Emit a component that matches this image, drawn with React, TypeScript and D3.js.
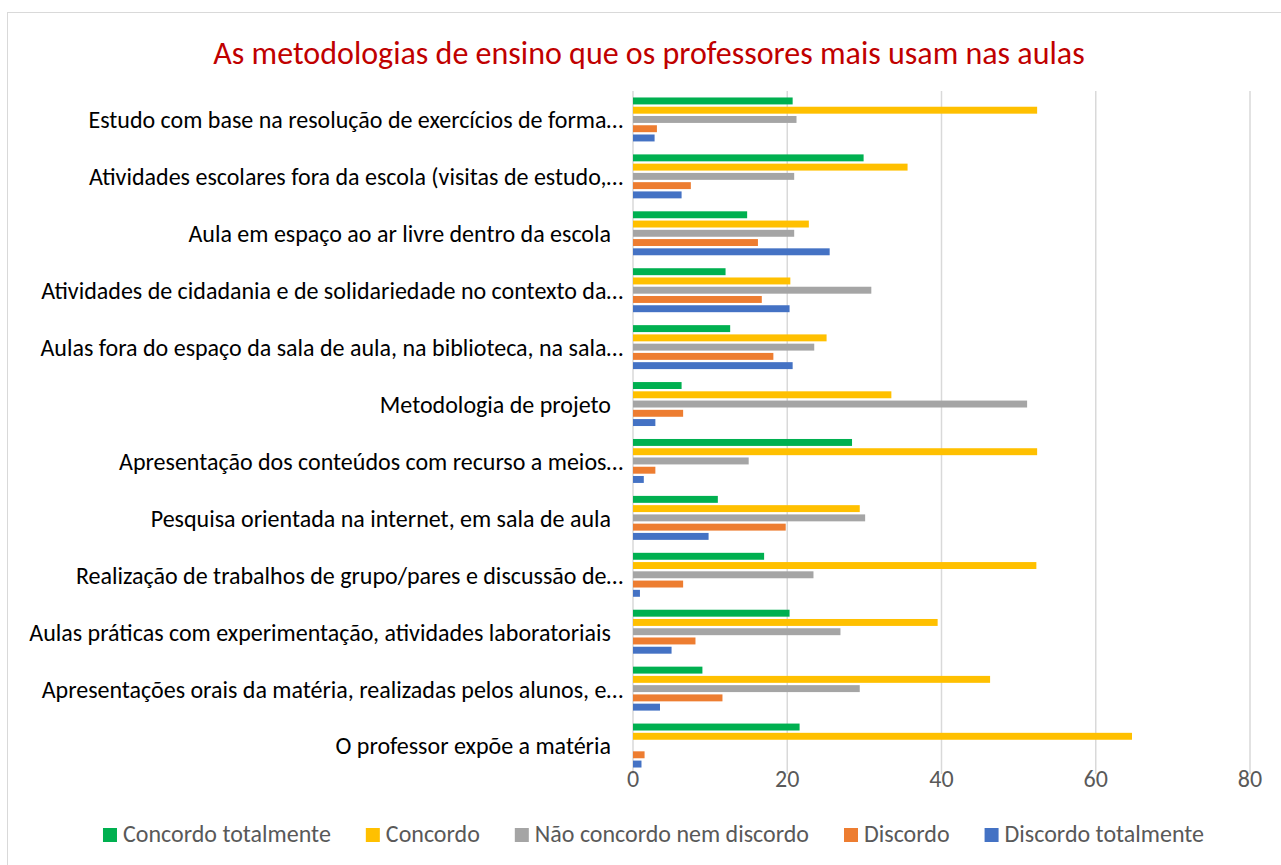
import React, { useRef, useEffect } from 'react';
import * as d3 from 'd3';

const categories = [
  "Estudo com base na resolução de exercícios de forma…",
  "Atividades escolares fora da escola (visitas de estudo,…",
  "Aula em espaço ao ar livre dentro da escola",
  "Atividades de cidadania e de solidariedade no contexto da…",
  "Aulas fora do espaço da sala de aula, na biblioteca, na sala…",
  "Metodologia de projeto",
  "Apresentação dos conteúdos com recurso a meios…",
  "Pesquisa orientada na internet, em sala de aula",
  "Realização de trabalhos de grupo/pares e discussão de…",
  "Aulas práticas com experimentação, atividades laboratoriais",
  "Apresentações orais da matéria, realizadas pelos alunos, e…",
  "O professor expõe a matéria",
];

const seriesNames = [
  "Concordo totalmente",
  "Concordo",
  "Não concordo nem discordo",
  "Discordo",
  "Discordo totalmente",
];

const concordoTotalmente = [20.7, 29.9, 14.8, 12.0, 12.6, 6.3, 28.4, 11.0, 17.0, 20.3, 9.0, 21.6];
const concordo = [52.4, 35.6, 22.8, 20.4, 25.1, 33.5, 52.4, 29.4, 52.3, 39.5, 46.3, 64.7];
const nemNem = [21.2, 20.9, 20.9, 30.9, 23.5, 51.1, 15.0, 30.1, 23.4, 26.9, 29.4, 0];
const discordo = [3.1, 7.5, 16.2, 16.7, 18.2, 6.5, 2.9, 19.8, 6.5, 8.1, 11.6, 1.5];
const discordoTotalmente = [2.8, 6.3, 25.5, 20.3, 20.7, 2.9, 1.4, 9.8, 0.9, 5.0, 3.5, 1.1];

const xTicks = [0, 20, 40, 60, 80];

const colors = ["#00B050", "#FFC000", "#A5A5A5", "#ED7D31", "#4472C4"];

const FONT = "Carlito, Calibri, 'Noto Sans', sans-serif";

const App = () => {
  const ref = useRef<SVGSVGElement>(null);

  useEffect(() => {
    const width = 1281;
    const height = 865;
    const svg = d3.select(ref.current);
    svg.selectAll("*").remove();

    const allSeries = [concordoTotalmente, concordo, nemNem, discordo, discordoTotalmente];
    const rows = categories.map((c, i) => ({
      name: c,
      values: seriesNames.map((s, j) => ({ key: s, value: allSeries[j][i] })),
    }));

    // chart frame
    svg.append("rect")
      .attr("x", 7.5)
      .attr("y", 12.5)
      .attr("width", width + 10)
      .attr("height", height + 10)
      .attr("fill", "white")
      .attr("stroke", "#D9D9D9");

    svg.append("text")
      .attr("x", 649)
      .attr("y", 64)
      .attr("text-anchor", "middle")
      .attr("font-family", FONT)
      .attr("font-size", 32)
      .attr("fill", "#C00000")
      .text("As metodologias de ensino que os professores mais usam nas aulas");

    const x = d3.scaleLinear().domain([0, 80]).range([633, 1250]);
    const y = d3.scaleBand().domain(categories).range([91, 774]);
    const yInner = d3.scaleBand()
      .domain(seriesNames)
      .range([0, y.bandwidth()])
      .paddingInner(0.25)
      .paddingOuter(0.7);
    const color = d3.scaleOrdinal<string, string>().domain(seriesNames).range(colors);

    // gridlines
    svg.append("g")
      .selectAll("line")
      .data(xTicks)
      .join("line")
      .attr("x1", d => x(d))
      .attr("x2", d => x(d))
      .attr("y1", 91)
      .attr("y2", 774)
      .attr("stroke", "#D9D9D9")
      .attr("stroke-width", 1.5);

    svg.append("g")
      .attr("font-family", FONT)
      .attr("font-size", 24)
      .attr("fill", "#595959")
      .attr("text-anchor", "middle")
      .selectAll("text")
      .data(xTicks)
      .join("text")
      .attr("x", d => x(d))
      .attr("y", 787)
      .text(d => d);

    // bars
    const groups = svg.append("g")
      .selectAll("g")
      .data(rows)
      .join("g")
      .attr("transform", d => `translate(0,${y(d.name)})`);

    groups.selectAll("rect")
      .data(d => d.values)
      .join("rect")
      .attr("x", x(0))
      .attr("y", d => yInner(d.key)!)
      .attr("height", yInner.bandwidth())
      .attr("width", d => x(d.value) - x(0))
      .attr("fill", d => color(d.key));

    // category labels
    svg.append("g")
      .attr("font-family", FONT)
      .attr("font-size", 24)
      .attr("fill", "#000000")
      .attr("text-anchor", "end")
      .selectAll("text")
      .data(categories)
      .join("text")
      .attr("x", d => d.endsWith("…") ? 623 : 611)
      .attr("y", d => y(d)! + y.bandwidth() / 2)
      .attr("dy", "0.37em")
      .text(d => d);

    // legend
    const legend = svg.append("g")
      .attr("font-family", FONT)
      .attr("font-size", 24)
      .attr("fill", "#595959");
    const items = legend.selectAll("g")
      .data(seriesNames)
      .join("g");
    items.append("rect")
      .attr("width", 14)
      .attr("height", 14)
      .attr("y", 828)
      .attr("fill", d => color(d));
    items.append("text")
      .attr("x", 20)
      .attr("y", 842)
      .text(d => d);
    const widths: number[] = [];
    items.each(function () {
      const t = d3.select(this).select("text").node() as SVGTextElement;
      widths.push(20 + t.getComputedTextLength());
    });
    const gap = 35;
    const total = d3.sum(widths) + gap * (widths.length - 1);
    let cx = 653.5 - total / 2;
    items.attr("transform", (d, i) => {
      const tx = cx;
      cx += widths[i] + gap;
      return `translate(${tx},0)`;
    });
  }, []);

  return (
    <svg
      ref={ref}
      width={1281}
      height={865}
      style={{ position: "absolute", left: 0, top: 0, display: "block", background: "white" }}
    />
  );
};

export default App;
